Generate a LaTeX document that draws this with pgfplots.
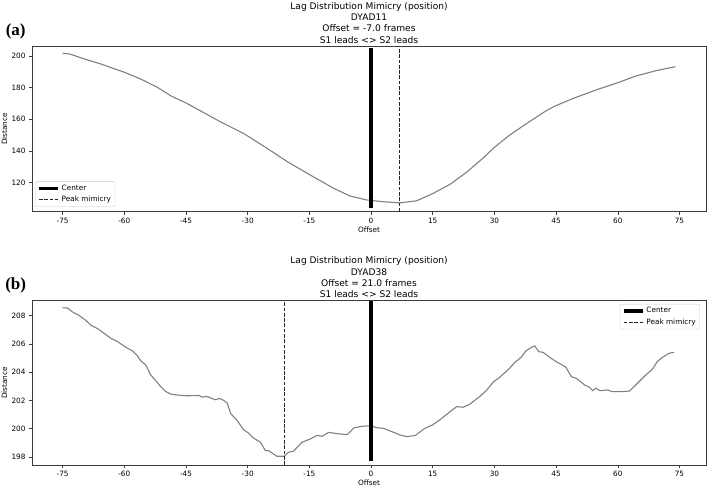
\documentclass[border=0pt]{standalone}
\usepackage{pgfplots}
\pgfplotsset{compat=1.18}
\usepackage{fontspec}
\setmainfont{DejaVu Sans}
\newfontfamily\tnr{Liberation Serif}
\definecolor{curve}{RGB}{128,128,128}
\definecolor{frame}{RGB}{60,60,60}
\begin{document}
\begin{tikzpicture}[x=1pt,y=1pt]
\pgfplotsset{
  every axis/.append style={
    scale only axis, width=674pt, anchor=south west,
    xmin=-82.45, xmax=81.45,
    xtick={-75,-60,...,75},
    tick pos=left, tick align=outside, major tick length=3pt,
    axis line style={frame, line width=0.7pt},
    every tick/.style={frame, line width=0.6pt},
    /pgf/number format/assume math mode=true,
    tick label style={font=\fontsize{7.3}{9}\selectfont},
    xlabel={Offset}, ylabel={Distance},
    label style={font=\fontsize{7.3}{9}\selectfont},
    xlabel style={at={(axis description cs:0.5,0)}, anchor=center, yshift=-17.8pt},
    ylabel style={at={(axis description cs:0,0.5)}, anchor=center, yshift=27.5pt},
    title style={at={(axis description cs:0.5,1)}, anchor=south, yshift=-3.5pt, inner sep=0pt,
      align=center, font=\fontsize{9.1}{11.3}\selectfont},
    legend style={draw=black!20, rounded corners=1.5pt, fill=white,
      font=\fontsize{7.3}{9}\selectfont, inner xsep=2pt, inner ysep=1.2pt,
      row sep=0.5pt, cells={anchor=west}},
    legend image code/.code={\draw[#1] (0pt,0pt) -- (19pt,0pt);},
  }
}
% ---------- (a) ----------
\begin{axis}[at={(32pt,277.3pt)}, height=165.7pt,
  ymin=101.5, ymax=206.3, ytick={120,140,...,200},
  title={Lag Distribution Mimicry (position)\\DYAD11\\Offset = -7.0 frames\\S1 leads <> S2 leads},
  legend style={at={(0.0045,0.03)}, anchor=south west}]
\addplot[curve, line width=1.1pt, forget plot] coordinates {
(-75,201.7) (-73.4,201.3) (-69.7,198.1) (-65.7,194.9) (-60,189.7) (-56,185.4)
(-51.9,180.1) (-48.7,174.8) (-44.8,170) (-41.5,165.3) (-36.6,158.3) (-31,151)
(-29.7,148.9) (-25.3,141.6) (-20.4,133.2) (-14.8,124.7) (-9.1,116.3) (-5.1,111.4)
(-1,108.9) (3,107.8) (7,107.1) (11.1,108.4) (15.1,113.1) (19.2,118.8) (23.2,126.4)
(27.2,135.3) (29.9,142) (33.7,150) (38.5,158.4) (42.6,165.4) (44.8,168.4) (49,173)
(54.7,178.5) (60,183.1) (64.4,187.3) (69.3,190.7) (74,193.2)
};
\addplot[black, line width=3.5pt] coordinates {(0,103.6) (0,205)};
\addlegendentry{Center}
\addplot[black!85, line width=0.9pt, dash pattern=on 3.7pt off 1.6pt] coordinates {(7,101.5) (7,206.3)};
\addlegendentry{Peak mimicry}
\end{axis}
% ---------- (b) ----------
\begin{axis}[at={(32pt,24pt)}, height=164.3pt,
  ymin=197.43, ymax=209.06, ytick={198,200,...,208},
  title={Lag Distribution Mimicry (position)\\DYAD38\\Offset = 21.0 frames\\S1 leads <> S2 leads},
  legend style={at={(0.991,0.98)}, anchor=north east}]
\addplot[curve, line width=1.1pt, forget plot] coordinates {
(-75,208.56) (-73.8,208.54) (-72.6,208.26) (-71,208.02) (-69.3,207.65) (-68.1,207.32)
(-66.5,207.08) (-64.9,206.75) (-63.3,206.4) (-61.6,206.16) (-59.9,205.81) (-58,205.5)
(-56.8,205.15) (-56,204.8) (-54.8,204.52) (-53.6,203.81) (-52.4,203.41) (-51.2,202.99)
(-50,202.64) (-48.7,202.45) (-47.1,202.38) (-44.9,202.33) (-41.9,202.35) (-41.1,202.24)
(-39.9,202.28) (-37.9,202.05) (-36.8,202.14) (-35.8,202.0) (-35,201.81) (-34.1,201.06)
(-32.6,200.59) (-31,199.93) (-29.8,199.69) (-28.6,199.34) (-26.9,199.04) (-25.7,198.45)
(-24.9,198.45) (-24.1,198.28) (-22.9,198.05) (-21.1,198.05) (-20.1,198.33) (-18.9,198.4)
(-16.8,199.04) (-14.8,199.27) (-13.1,199.53) (-11.9,199.46) (-10.3,199.74) (-8.3,199.65)
(-5.8,199.58) (-4.2,200.05) (-2.5,200.16) (-0.2,200.21) (1.4,200.07) (3,200.03)
(5.4,199.75) (7,199.56) (8.6,199.44) (10.7,199.51) (13.1,200.03) (14.9,200.26)
(16.7,200.62) (19.2,201.2) (20.8,201.56) (22.4,201.52) (24,201.73) (26.4,202.27)
(28,202.69) (29.8,203.33) (31.3,203.64) (33.7,204.28) (34.9,204.67) (36.5,205.06)
(37.7,205.52) (38.9,205.74) (39.8,205.86) (40.8,205.45) (41.8,205.41) (43.4,205.06)
(45,204.75) (46.2,204.56) (47.4,204.35) (48.7,203.68) (49.9,203.57) (51.9,203.1)
(53.1,202.93) (53.9,202.69) (54.7,202.86) (55.7,202.69) (57.5,202.74) (58.7,202.62)
(61.2,202.62) (62.9,202.67) (64.8,203.22) (66.8,203.8) (68.4,204.2) (69.6,204.75)
(70.9,205.06) (72.5,205.34) (73.7,205.41)
};
\addplot[black, line width=3.5pt] coordinates {(0,197.7) (0,209.06)};
\addlegendentry{Center}
\addplot[black!85, line width=0.9pt, dash pattern=on 3.7pt off 1.6pt] coordinates {(-21,197.43) (-21,209.06)};
\addlegendentry{Peak mimicry}
\end{axis}
\node[font=\tnr\bfseries\fontsize{17}{17}\selectfont, inner sep=0pt] at (15.7pt,458pt) {(a)};
\node[font=\tnr\bfseries\fontsize{17}{17}\selectfont, inner sep=0pt] at (15.7pt,203.3pt) {(b)};
\pgfresetboundingbox
\path[use as bounding box] (0,0) rectangle (708pt,489pt);
\end{tikzpicture}
\end{document}
